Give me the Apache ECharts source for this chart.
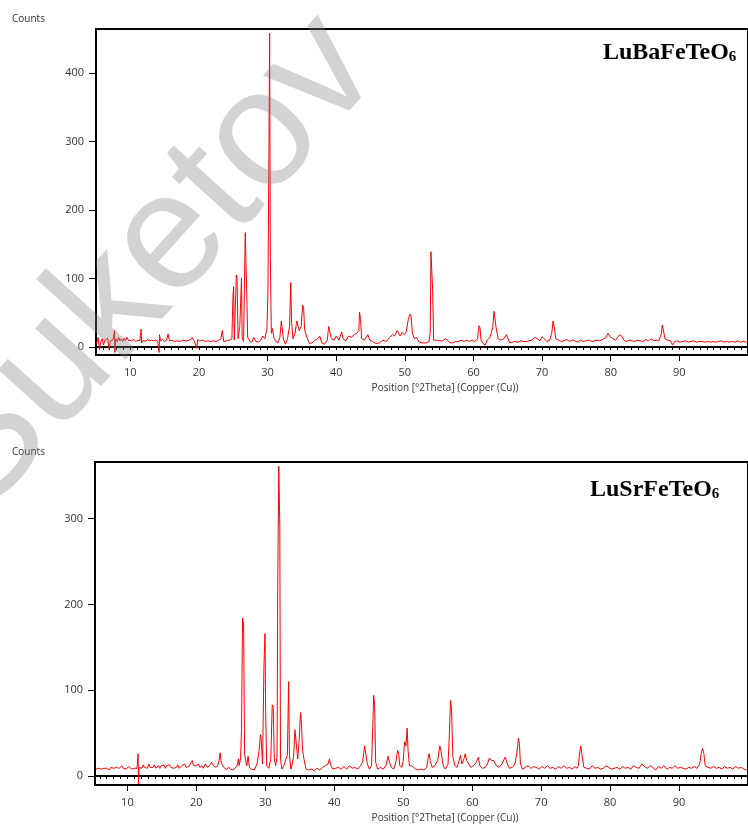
<!DOCTYPE html>
<html>
<head>
<meta charset="utf-8">
<script src="https://cdn.jsdelivr.net/npm/echarts@6/dist/echarts.min.js"></script>
<style>
  html, body { margin: 0; padding: 0; background: #fff; }
  #chart { width: 748px; height: 825px; }
</style>
</head>
<body>
<div id="chart"></div>
<script>
// XRD patterns: [position 2theta, counts]
const baPattern = [
  [5.1,5],[5.3,14],[5.5,-4],[5.7,8],[5.9,12],[6.1,3],[6.3,10],[6.5,8],[6.7,13],[6.9,-3],
  [7.1,9],[7.3,7],[7.5,11],[7.7,24],[7.75,-8],[7.9,12],[8.1,8],[8.3,14],[8.5,9],[8.7,12],
  [8.9,8],[9.1,13],[9.3,9],[9.5,14],[9.7,10],[9.9,12],[10.2,9],[10.5,11],[10.8,8],[11.1,10],
  [11.4,9],[11.57,26],[11.65,6],[11.9,10],[12.2,8],[12.5,11],[12.8,9],[13.1,10],[13.4,9],[13.7,10],
  [14.0,8],[14.2,-8],[14.25,18],[14.4,9],[14.7,11],[15.0,8],[15.3,10],[15.5,19],[15.7,9],[16.0,10],
  [16.4,8],[16.8,9],[17.2,8],[17.6,10],[18.0,9],[18.4,9],[18.8,11],[19.0,14],[19.3,9],[19.7,-2],
  [19.8,11],[20.1,9],[20.5,10],[20.9,8],[21.3,9],[21.7,8],[22.1,9],[22.5,8],[22.9,10],[23.2,12],
  [23.4,24],[23.6,8],[24.0,9],[24.4,10],[24.8,12],[24.95,72],[25.05,88],[25.15,10],[25.45,105],[25.55,100],
  [25.7,12],[25.95,30],[26.2,101],[26.3,14],[26.5,8],[26.75,167],[26.9,167],[27.0,62],[27.1,14],[27.4,9],
  [27.7,7],[28.0,14],[28.3,8],[28.7,7],[29.0,10],[29.3,16],[29.6,12],[29.9,26],[30.05,79],[30.2,288],
  [30.3,458],[30.4,132],[30.55,20],[30.7,27],[30.9,14],[31.2,8],[31.5,6],[31.8,14],[32.0,38],[32.15,36],
  [32.3,12],[32.6,4],[32.9,12],[33.2,30],[33.38,94],[33.5,35],[33.7,12],[34.0,20],[34.25,38],[34.45,40],
  [34.6,24],[34.9,30],[35.1,61],[35.25,57],[35.4,25],[35.6,26],[35.8,12],[36.1,5],[36.5,6],[36.9,10],
  [37.3,12],[37.6,16],[37.9,6],[38.3,4],[38.7,10],[38.9,30],[39.05,31],[39.3,12],[39.7,10],[40.0,16],
  [40.2,18],[40.4,10],[40.8,22],[41.0,12],[41.4,9],[41.8,16],[42.2,14],[42.6,18],[43.0,20],[43.3,24],
  [43.4,51],[43.55,40],[43.7,12],[44.1,10],[44.6,18],[44.9,10],[45.3,8],[45.8,5],[46.3,6],[46.8,10],
  [47.3,8],[47.8,14],[48.2,18],[48.5,16],[48.9,24],[49.1,26],[49.3,16],[49.6,21],[49.9,18],[50.2,22],
  [50.5,40],[50.75,48],[50.9,45],[51.1,20],[51.4,12],[51.7,14],[52.0,8],[52.4,6],[52.8,6],[53.2,6],
  [53.5,8],[53.7,20],[53.8,139],[53.95,139],[54.05,83],[54.2,10],[54.6,10],[55.0,9],[55.5,9],[55.9,12],
  [56.2,10],[56.6,6],[57.0,6],[57.4,8],[57.8,8],[58.2,10],[58.6,8],[59.0,10],[59.4,8],[59.8,10],
  [60.2,8],[60.6,12],[60.8,31],[60.95,28],[61.1,10],[61.4,5],[61.7,3],[62.0,10],[62.4,14],[62.8,28],
  [63.0,52],[63.15,50],[63.3,28],[63.6,12],[64.0,10],[64.4,12],[64.8,18],[65.0,18],[65.3,6],[65.7,7],
  [66.1,8],[66.5,7],[66.9,9],[67.3,8],[67.7,8],[68.1,9],[68.5,10],[68.9,14],[69.3,12],[69.7,9],
  [70.0,15],[70.3,12],[70.7,8],[71.1,10],[71.4,20],[71.6,38],[71.75,30],[72.0,12],[72.4,10],[72.8,8],
  [73.2,9],[73.6,11],[74.0,8],[74.4,10],[74.8,9],[75.2,7],[75.6,10],[76.0,8],[76.4,9],[76.8,10],
  [77.2,8],[77.6,9],[78.0,10],[78.4,9],[78.8,11],[79.3,14],[79.6,20],[79.9,15],[80.3,12],[80.7,10],
  [81.0,14],[81.3,18],[81.6,16],[81.9,10],[82.3,8],[82.7,10],[83.1,9],[83.5,8],[83.9,10],[84.3,9],
  [84.7,8],[85.1,11],[85.5,9],[85.9,12],[86.3,9],[86.7,10],[87.0,9],[87.2,10],[87.4,20],[87.5,32],
  [87.65,26],[87.9,12],[88.3,10],[88.7,9],[89.0,3],[89.3,8],[89.7,9],[90.1,7],[90.5,8],[90.9,9],
  [91.3,7],[91.7,8],[92.1,9],[92.5,7],[92.9,8],[93.3,8],[93.7,7],[94.1,8],[94.5,7],[94.9,8],
  [95.3,7],[95.7,8],[96.1,9],[96.5,7],[96.9,8],[97.3,7],[97.7,8],[98.1,7],[98.5,9],[98.9,7],
  [99.3,8],[99.7,7],[100,8]
];

const srPattern = [
  [5.4,8],[5.6,6],[5.8,9],[6.0,7],[6.2,8],[6.4,6],[6.6,9],[6.8,7],[7.0,9],[7.2,8],
  [7.4,7],[7.6,10],[7.8,8],[8.0,9],[8.2,7],[8.4,10],[8.6,8],[8.8,9],[9.0,8],[9.2,12],
  [9.4,9],[9.6,10],[9.8,8],[10.0,9],[10.2,11],[10.4,9],[10.6,8],[10.8,10],[11.0,9],[11.2,11],
  [11.4,9],[11.55,26],[11.6,-9],[11.7,10],[11.9,12],[12.1,9],[12.3,13],[12.5,10],[12.7,12],[12.9,9],
  [13.1,14],[13.3,10],[13.5,12],[13.7,10],[13.9,13],[14.1,9],[14.3,11],[14.5,12],[14.7,9],[14.9,12],
  [15.1,10],[15.3,13],[15.5,9],[15.7,12],[15.9,10],[16.1,13],[16.3,10],[16.5,12],[16.7,9],[16.9,11],
  [17.1,10],[17.3,13],[17.5,9],[17.7,11],[17.9,12],[18.1,10],[18.3,14],[18.5,10],[18.7,12],[18.9,11],
  [19.1,10],[19.4,18],[19.6,12],[19.8,10],[20.0,12],[20.3,14],[20.5,10],[20.8,12],[21.0,9],[21.3,14],
  [21.6,10],[21.9,12],[22.2,16],[22.5,12],[22.8,10],[23.1,12],[23.3,18],[23.45,27],[23.6,16],[23.8,12],
  [24.1,9],[24.4,8],[24.7,10],[25.0,8],[25.3,7],[25.6,9],[25.9,12],[26.1,20],[26.2,12],[26.4,20],
  [26.55,53],[26.7,184],[26.85,177],[27.0,25],[27.3,12],[27.5,23],[27.7,10],[28.0,8],[28.4,7],[28.8,14],
  [29.1,30],[29.3,48],[29.4,43],[29.6,14],[29.8,128],[29.95,166],[30.05,73],[30.2,12],[30.5,9],[30.8,20],
  [31.0,83],[31.15,80],[31.3,20],[31.5,12],[31.7,22],[31.8,221],[31.95,361],[32.1,291],[32.2,20],[32.4,8],
  [32.7,12],[33.0,20],[33.2,24],[33.38,110],[33.5,25],[33.7,8],[33.9,14],[34.1,22],[34.3,54],[34.5,52],
  [34.7,20],[34.9,40],[35.1,74],[35.25,60],[35.4,30],[35.6,20],[35.9,8],[36.3,7],[36.7,8],[37.1,6],
  [37.5,9],[37.9,7],[38.3,10],[38.7,12],[39.1,14],[39.3,20],[39.5,12],[39.8,8],[40.2,9],[40.6,10],
  [41.0,8],[41.4,11],[41.8,8],[42.2,12],[42.6,9],[43.0,10],[43.4,8],[43.8,12],[44.1,16],[44.4,35],
  [44.6,34],[44.8,14],[45.1,8],[45.4,12],[45.6,60],[45.72,94],[45.85,83],[46.0,16],[46.3,8],[46.7,10],
  [47.1,8],[47.5,12],[47.8,23],[48.0,16],[48.3,10],[48.6,8],[48.9,15],[49.2,30],[49.35,26],[49.5,12],
  [49.8,10],[50.0,18],[50.2,40],[50.4,35],[50.57,56],[50.7,30],[50.9,12],[51.2,12],[51.5,10],[51.8,8],
  [52.2,7],[52.6,8],[53.0,7],[53.4,10],[53.6,20],[53.76,26],[53.9,18],[54.2,10],[54.6,12],[55.0,18],
  [55.3,35],[55.5,28],[55.8,12],[56.1,8],[56.5,14],[56.7,50],[56.86,88],[57.0,80],[57.2,22],[57.5,12],
  [57.8,10],[58.1,18],[58.3,24],[58.5,14],[58.8,20],[59.0,26],[59.2,18],[59.5,14],[59.8,10],[60.2,12],
  [60.6,16],[60.9,22],[61.1,12],[61.5,9],[61.9,10],[62.2,14],[62.5,21],[62.8,18],[63.1,18],[63.5,12],
  [63.9,10],[64.3,14],[64.8,22],[65.1,14],[65.4,9],[65.8,10],[66.2,14],[66.5,28],[66.7,44],[66.85,38],
  [67.0,14],[67.3,8],[67.7,10],[68.1,12],[68.5,9],[68.9,11],[69.3,10],[69.7,8],[70.1,11],[70.5,9],
  [70.9,12],[71.3,9],[71.7,10],[72.1,8],[72.5,11],[72.9,9],[73.3,12],[73.7,9],[74.1,10],[74.5,8],
  [74.9,11],[75.2,9],[75.4,12],[75.6,28],[75.76,35],[75.9,26],[76.2,10],[76.6,9],[77.0,8],[77.4,12],
  [77.8,9],[78.2,10],[78.6,8],[79.0,9],[79.4,12],[79.8,10],[80.2,8],[80.6,9],[81.0,10],[81.4,8],
  [81.8,11],[82.2,9],[82.6,10],[83.0,8],[83.4,12],[83.8,10],[84.2,9],[84.6,14],[85.0,11],[85.4,9],
  [85.8,12],[86.2,10],[86.6,7],[87.0,11],[87.4,9],[87.8,12],[88.2,8],[88.6,10],[89.0,9],[89.4,12],
  [89.8,9],[90.2,10],[90.6,9],[91.0,8],[91.4,10],[91.8,9],[92.2,11],[92.6,9],[93.0,14],[93.2,26],
  [93.4,32],[93.6,26],[93.8,12],[94.2,10],[94.6,9],[95.0,11],[95.4,9],[95.8,10],[96.2,8],[96.6,11],
  [97.0,9],[97.4,10],[97.8,8],[98.2,11],[98.6,9],[99.0,10],[99.4,8],[99.8,7]
];

const baYTicks = [0, 100, 200, 300, 400];
const srYTicks = [0, 100, 200, 300];
const xLabelTicks = [10, 20, 30, 40, 50, 60, 70, 80, 90];
const xMajorTicks = [10, 20, 30, 40, 50, 60, 70, 80, 90, 100];
const xMinorTicks = [];
for (let v = 6; v <= 100; v++) xMinorTicks.push(v);

const xTitle = 'Position [°2Theta] (Copper (Cu))';
const labelFont = '"Open Sans", "DejaVu Sans", sans-serif';
const RED = '#ff0000';

// panel geometry (px) and axis ranges
const panels = [
  { name: 'LuBaFeTeO', data: baPattern, left: 96, top: 29, width: 665, height: 326,
    xMin: 5, yMin: -11.7, yMax: 464, yTicks: baYTicks },
  { name: 'LuSrFeTeO', data: srPattern, left: 95, top: 462, width: 663, height: 323,
    xMin: 5.3, yMin: -10.5, yMax: 366, yTicks: srYTicks }
];

const grid = [], xAxis = [], yAxis = [], series = [];
panels.forEach((p, i) => {
  grid.push({ left: p.left, top: p.top, width: p.width, height: p.height,
    show: true, borderColor: '#000', borderWidth: 2, containLabel: false });
  // minor ticks + labels
  xAxis.push({
    type: 'value', gridIndex: i, position: 'bottom', min: p.xMin, max: 100,
    axisLine: { show: true, lineStyle: { color: '#000', width: 2 } },
    axisTick: { show: true, customValues: xMinorTicks, length: 3, lineStyle: { color: '#000', width: 1 } },
    axisLabel: { show: true, customValues: xLabelTicks, margin: 12, color: '#333',
      fontFamily: labelFont, fontSize: 11 },
    splitLine: { show: false }
  });
  // major ticks
  xAxis.push({
    type: 'value', gridIndex: i, position: 'bottom', min: p.xMin, max: 100,
    axisLine: { show: false },
    axisTick: { show: true, customValues: xMajorTicks, length: 6, lineStyle: { color: '#000', width: 1 } },
    axisLabel: { show: false },
    splitLine: { show: false }
  });
  yAxis.push({
    type: 'value', gridIndex: i, min: p.yMin, max: p.yMax,
    axisLine: { show: true, lineStyle: { color: '#000', width: 2 } },
    axisTick: { show: true, customValues: p.yTicks, length: 7, lineStyle: { color: '#000', width: 1 } },
    axisLabel: { show: true, customValues: p.yTicks, margin: 12, color: '#333',
      fontFamily: labelFont, fontSize: 11 },
    splitLine: { show: false }
  });
  series.push({
    type: 'line', xAxisIndex: i * 2, yAxisIndex: i, data: p.data,
    showSymbol: false, symbol: 'none', smooth: false,
    lineStyle: { color: RED, width: 1 }, z: 3
  });
});

function formula(name, x, y) {
  return {
    type: 'text', x: x, y: y, z: 20,
    style: {
      text: '{m|' + name + '}{s|6}',
      textAlign: 'left', textVerticalAlign: 'middle',
      rich: {
        m: { fontFamily: '"Liberation Serif", "Times New Roman", serif', fontWeight: 'bold',
             fontSize: 24, fill: '#000' },
        s: { fontFamily: '"Liberation Serif", "Times New Roman", serif', fontWeight: 'bold',
             fontSize: 15, fill: '#000', padding: [8, 0, 0, 0] }
      }
    }
  };
}

function plainText(text, x, y, size, align) {
  return {
    type: 'text', x: x, y: y, z: 20,
    style: { text: text, fill: '#333', fontFamily: labelFont, fontSize: size,
      textAlign: align || 'left', textVerticalAlign: 'middle' }
  };
}

const graphic = [
  plainText('Counts', 12, 19, 10),
  plainText('Counts', 12, 452, 10),
  plainText(xTitle, 445, 388, 10, 'center'),
  plainText(xTitle, 445, 818, 10, 'center'),
  formula('LuBaFeTeO', 603, 53),
  formula('LuSrFeTeO', 590, 490),
  // watermark
  {
    type: 'text', x: -52, y: 488, rotation: Math.PI * 48 / 180, z: 30, silent: true,
    style: { text: 'Suketov  e', fill: 'rgba(130,130,130,0.35)',
      fontFamily: '"Liberation Sans", Arial, sans-serif', fontSize: 166,
      textAlign: 'left', textVerticalAlign: 'middle' }
  }
];

const chart = echarts.init(document.getElementById('chart'), null, { renderer: 'canvas' });
chart.setOption({
  animation: false,
  backgroundColor: '#fff',
  grid: grid,
  xAxis: xAxis,
  yAxis: yAxis,
  series: series,
  graphic: graphic
});
</script>
</body>
</html>
